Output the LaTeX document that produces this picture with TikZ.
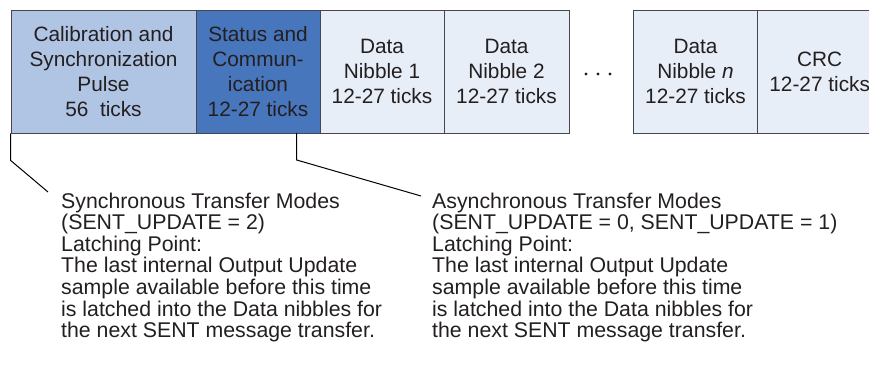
\documentclass[tikz,border=0pt]{standalone}
\usepackage{fontspec}
\setmainfont{Liberation Sans}
\definecolor{calblue}{RGB}{176,196,228}
\definecolor{statblue}{RGB}{72,118,188}
\definecolor{nibblefill}{RGB}{232,238,247}
\definecolor{framegray}{RGB}{70,70,78}
\definecolor{inkgray}{RGB}{35,31,32}
\begin{document}
\begin{tikzpicture}[x=1pt,y=-1pt,
  field/.style={draw=framegray, line width=0.8pt, minimum height=123pt, inner sep=0pt,
    align=center, text=inkgray, font=\fontsize{20.8}{24.8}\selectfont},
  note/.style={anchor=north west, inner sep=0pt, align=left, text=inkgray,
    font=\fontsize{21.3}{21.6}\selectfont},
  leader/.style={draw=black, line width=1pt}]
\useasboundingbox (0,0) rectangle (869,366);
\clip (0,0) rectangle (869,366);

% message fields
\node[field, fill=calblue, minimum width=185pt] (cal) at (103.5,71.5) {Calibration and\\Synchronization\\Pulse\\56~~ticks};
\node[field, fill=statblue, minimum width=124pt] (stat) at (258,71.5) {Status and\\Commun-\\ication\\12-27 ticks};
\node[field, fill=nibblefill, minimum width=124pt] (dn1) at (382,71.5) {Data\\Nibble 1\\12-27 ticks};
\node[field, fill=nibblefill, minimum width=125pt] (dn2) at (506.5,71.5) {Data\\Nibble 2\\12-27 ticks};
\node[field, fill=nibblefill, minimum width=124pt] (dnn) at (695.5,71.5) {Data\\Nibble \textit{n}\\12-27 ticks};
\node[field, fill=nibblefill, minimum width=124pt] (crc) at (819.7,71.5) {CRC\\12-27 ticks};

\foreach \x in {586,598,610}
  \fill[inkgray] (\x,74) circle (1.6pt);

% latching points
\coordinate (latch) at (296.7,133);
\coordinate (syncend) at (48,192);
\coordinate (asyncend) at (421,196);

\node[note] (sync) at (61,192.5) {Synchronous Transfer Modes\\(SENT\_UPDATE = 2)\\Latching Point:\\The last internal Output Update\\sample available before this time\\is latched into the Data nibbles for\\the next SENT message transfer.};
\node[note] (async) at (432,192.5) {Asynchronous Transfer Modes\\(SENT\_UPDATE = 0, SENT\_UPDATE = 1)\\Latching Point:\\The last internal Output Update\\sample available before this time\\is latched into the Data nibbles for\\the next SENT message transfer.};

\path[leader] (cal.south west) -- ++(0,27) -- (syncend);
\path[leader] (latch) -- ++(0,27) -- (asyncend);
\end{tikzpicture}
\end{document}
